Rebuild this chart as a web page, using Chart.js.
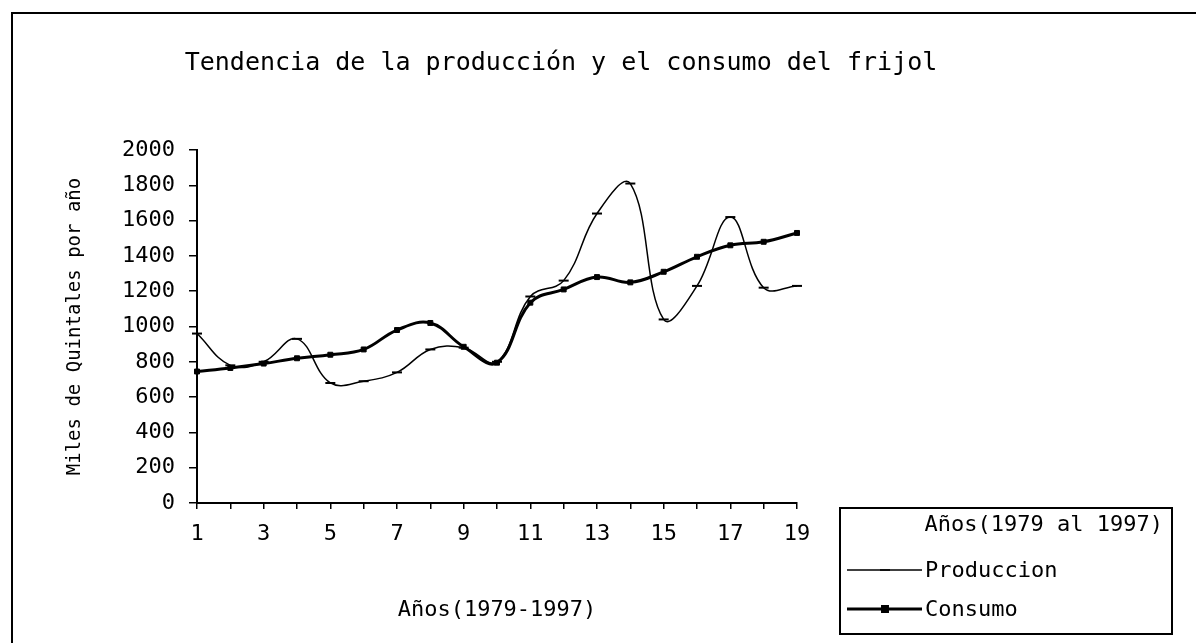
<!DOCTYPE html>
<html>
<head>
<meta charset="utf-8">
<script src="https://cdn.jsdelivr.net/npm/chart.js@4.4.1/dist/chart.umd.min.js"></script>
<style>
  body { margin: 0; background: #fff; }
  #wrap { width: 1196px; height: 643px; }
</style>
</head>
<body>
<div id="wrap"><canvas id="line-chart"></canvas></div>
<script>
var years = ['1', '2', '3', '4', '5', '6', '7', '8', '9', '10',
             '11', '12', '13', '14', '15', '16', '17', '18', '19'];
var produccion = [960, 780, 800, 930, 680, 690, 740, 870, 880, 800,
                  1170, 1260, 1640, 1810, 1040, 1230, 1620, 1220, 1230];
var consumo = [745, 765, 790, 820, 840, 870, 980, 1020, 885, 795,
               1135, 1210, 1280, 1250, 1310, 1395, 1460, 1480, 1530];
var seriesNames = ['Produccion', 'Consumo'];
var legendTitle = 'Años(1979 al 1997)';
var yMax = 2000;
var yStep = 200;

var MONO = "'DejaVu Sans Mono', monospace";
Chart.defaults.font.family = MONO;
Chart.defaults.color = '#000';

// frame round the figure (only left and top edges show in the scan)
var frame = {
  id: 'frame',
  beforeDraw: function (chart) {
    var ctx = chart.ctx;
    ctx.save();
    ctx.strokeStyle = '#000';
    ctx.lineWidth = 2;
    ctx.beginPath();
    ctx.moveTo(12, 643);
    ctx.lineTo(12, 13);
    ctx.lineTo(1196, 13);
    ctx.stroke();
    ctx.restore();
  }
};

// boxed legend below-right of the plot, with its own title
var boxLegend = {
  id: 'boxLegend',
  afterDraw: function (chart) {
    var ctx = chart.ctx;
    ctx.save();
    ctx.strokeStyle = '#000';
    ctx.fillStyle = '#000';
    ctx.lineWidth = 2;
    ctx.strokeRect(840, 508, 332, 126);
    ctx.font = '22px ' + MONO;
    ctx.textBaseline = 'middle';
    ctx.textAlign = 'right';
    ctx.fillText(legendTitle, 1163, 525);
    ctx.textAlign = 'left';
    chart.data.datasets.forEach(function (ds, i) {
      var y = 570 + i * 39;
      ctx.lineWidth = ds.borderWidth;
      ctx.beginPath();
      ctx.moveTo(847, y);
      ctx.lineTo(922, y);
      ctx.stroke();
      Chart.helpers.drawPoint(ctx, {
        pointStyle: ds.pointStyle,
        radius: ds.pointRadius,
        borderWidth: ds.pointBorderWidth
      }, 885, y);
      ctx.fillText(ds.label, 925, y + 1);
    });
    ctx.restore();
  }
};

var config = {
  type: 'line',
  data: {
    labels: years,
    datasets: [
      {
        label: seriesNames[0],
        data: produccion,
        borderColor: '#000',
        backgroundColor: '#000',
        borderWidth: 1.5,
        tension: 0.4,
        pointStyle: 'line',
        pointRadius: 5,
        pointBorderWidth: 2
      },
      {
        label: seriesNames[1],
        data: consumo,
        borderColor: '#000',
        backgroundColor: '#000',
        borderWidth: 3,
        tension: 0.4,
        pointStyle: 'rect',
        pointRadius: 3.5,
        pointBorderWidth: 1
      }
    ]
  },
  options: {
    responsive: true,
    maintainAspectRatio: false,
    animation: false,
    layout: {
      padding: { left: 0, right: 74, top: 10, bottom: 0 }
    },
    plugins: {
      legend: { display: false },
      tooltip: { enabled: false },
      title: {
        display: true,
        text: 'Tendencia de la producción y el consumo del frijol',
        font: { size: 25, weight: 'normal', family: MONO },
        padding: { top: 38, bottom: 72 }
      }
    },
    scales: {
      x: {
        afterFit: function (scale) { scale.height = 140; },
        border: { display: true, color: '#000', width: 2 },
        grid: { drawOnChartArea: false, color: '#000', tickLength: 6, lineWidth: 1.5 },
        ticks: {
          autoSkip: false,
          maxRotation: 0,
          padding: 12,
          font: { size: 22 },
          callback: function (val, idx) { return idx % 2 === 0 ? years[idx] : ''; }
        },
        title: {
          display: true,
          text: 'Años(1979-1997)',
          font: { size: 22 },
          padding: { top: 0, bottom: 20 }
        }
      },
      y: {
        min: 0,
        max: yMax,
        afterFit: function (scale) { scale.width = 197; },
        border: { display: true, color: '#000', width: 2 },
        grid: { drawOnChartArea: false, color: '#000', tickLength: 8, lineWidth: 1.5 },
        ticks: {
          stepSize: yStep,
          padding: 14,
          font: { size: 22 },
          callback: function (val) { return String(val); }
        },
        title: {
          display: true,
          text: 'Miles de Quintales por año',
          font: { size: 19 },
          padding: { top: 64, bottom: 0 }
        }
      },
      // empty right-hand band that holds the space for the legend box
      side: {
        position: 'right',
        min: 0,
        max: yMax,
        afterFit: function (scale) { scale.width = 325; },
        border: { display: false },
        grid: { display: false },
        ticks: { display: false }
      }
    }
  },
  plugins: [frame, boxLegend]
};

var ctx = document.getElementById('line-chart').getContext('2d');
var lineChart = new Chart(ctx, config);
</script>
</body>
</html>
